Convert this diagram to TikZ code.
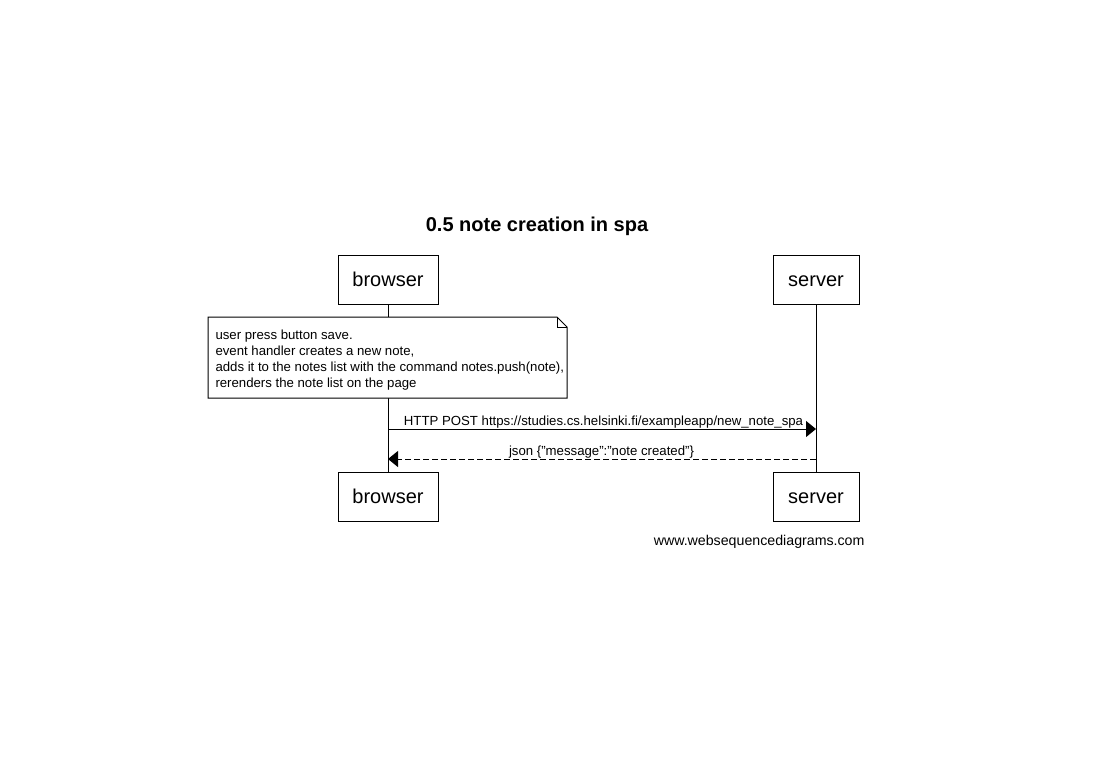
\documentclass[tikz,border=0pt]{standalone}
\usepackage{fontspec}
\setmainfont{Liberation Sans}
\usetikzlibrary{arrows.meta}
\begin{document}
\begin{tikzpicture}[x=1pt,y=-1pt,line width=1pt,
  actor/.style={draw,minimum height=49pt,inner sep=0pt,font=\fontsize{20}{24}\selectfont,text height=13pt,text depth=0pt},
  noteline/.style={anchor=base west,inner sep=0pt,font=\fontsize{13.2}{16}\selectfont},
  msglabel/.style={anchor=base,inner sep=0pt,font=\fontsize{13.2}{16}\selectfont},
  msg/.style={-{Triangle[length=10pt,width=16pt]}},
  reply/.style={-{Triangle[length=10pt,width=16pt]},dash pattern=on 6pt off 3pt}]
\useasboundingbox (0,0) rectangle (1106,756);
\fill[white] (0,0) rectangle (1106,756);
% title
\node[anchor=base,inner sep=0pt,font=\fontsize{20}{24}\selectfont\bfseries] (title) at (537,231) {0.5 note creation in spa};
% actors
\node[actor,minimum width=100pt] (bt) at (388,279.5) {browser};
\node[actor,minimum width=86pt] (st) at (816,279.5) {server};
\node[actor,minimum width=100pt] (bb) at (388,496.5) {browser};
\node[actor,minimum width=86pt] (sb) at (816,496.5) {server};
% lifelines
\draw (bt.south) -- (bb.north);
\draw (st.south) -- (sb.north);
% note
\coordinate (nw) at (208,317);
\coordinate (ne) at (567,317);
\coordinate (se) at (567,398);
\coordinate (sw) at (208,398);
\filldraw[fill=white] (nw) -- (557,317) -- (567,327) -- (se) -- (sw) -- cycle;
\draw (557,317) -- (557,327) -- (567,327);
\node[noteline] (n1) at (215,339) {user press button save.};
\node[noteline] (n2) at (215,355) {event handler creates a new note,};
\node[noteline] (n3) at (215,371) {adds it to the notes list with the command notes.push(note),};
\node[noteline] (n4) at (215,387) {rerenders the note list on the page};
% messages
\coordinate (m1s) at (388,429);
\coordinate (m1e) at (816,429);
\coordinate (m2s) at (816,459);
\coordinate (m2e) at (388,459);
\draw[msg] (m1s) -- (m1e);
\node[msglabel] (l1) at (603.5,425) {HTTP POST https://studies.cs.helsinki.fi/exampleapp/new\_note\_spa};
\draw[reply] (m2s) -- (m2e);
\node[msglabel] (l2) at (601.5,455) {json \{"message":"note created"\}};
% footer
\node[anchor=base east,inner sep=0pt,font=\fontsize{14.2}{16}\selectfont] (footer) at (865,545) {www.websequencediagrams.com};
\end{tikzpicture}
\end{document}
